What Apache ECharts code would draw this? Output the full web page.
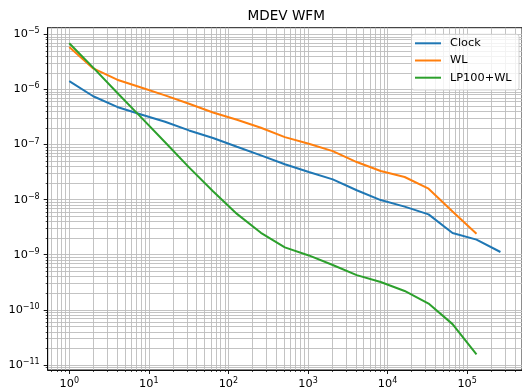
<!DOCTYPE html>
<html>
<head>
<meta charset="utf-8">
<script src="https://cdn.jsdelivr.net/npm/echarts@6/dist/echarts.min.js"></script>
<style>
html,body{margin:0;padding:0;background:#fff;}
#chart{width:522px;height:392px;}
</style>
</head>
<body>
<div id="chart"></div>
<script>
// averaging times (tau)
const taus = [1, 2, 4, 8, 16, 32, 64, 128, 256, 512, 1024, 2048, 4096, 8192, 16384, 32768, 65536, 131072, 262144];
// modified deviation values
const clock = [1.41e-6, 7.5e-7, 4.8e-7, 3.5e-7, 2.58e-7, 1.8e-7, 1.31e-7, 9.1e-8, 6.35e-8, 4.37e-8, 3.16e-8, 2.33e-8, 1.48e-8, 9.8e-9, 7.45e-9, 5.4e-9, 2.48e-9, 1.88e-9, 1.12e-9];
const wl = [5.9e-6, 2.4e-6, 1.5e-6, 1.08e-6, 7.8e-7, 5.5e-7, 3.8e-7, 2.81e-7, 2.01e-7, 1.36e-7, 1.03e-7, 7.59e-8, 4.8e-8, 3.3e-8, 2.57e-8, 1.58e-8, 6.1e-9, 2.4e-9];
const lp100wl = [6.87e-6, 2.48e-6, 8.7e-7, 3.1e-7, 1.1e-7, 3.85e-8, 1.42e-8, 5.5e-9, 2.5e-9, 1.36e-9, 9.7e-10, 6.5e-10, 4.26e-10, 3.2e-10, 2.2e-10, 1.3e-10, 5.5e-11, 1.55e-11];
const seriesNames = ['Clock', 'WL', 'LP100+WL'];
const xTickExponents = [0, 1, 2, 3, 4, 5];
const yTickExponents = [-11, -10, -9, -8, -7, -6, -5];

const colors = ['#1f77b4', '#ff7f0e', '#2ca02c'];
const FONT = 'DejaVu Sans';

function toLogPairs(vals) {
  return vals.map((v, i) => [Math.log10(taus[i]), Math.log10(v)]);
}
const allSeries = [clock, wl, lp100wl];

// matplotlib-like autoscale with 5% margins (in log space)
const xsL = taus.map(t => Math.log10(t));
const ysL = [].concat(...allSeries).map(v => Math.log10(v));
const xMinD = Math.min(...xsL), xMaxD = Math.max(...xsL);
const yMinD = Math.min(...ysL), yMaxD = Math.max(...ysL);
const xm = 0.05 * (xMaxD - xMinD), ym = 0.05 * (yMaxD - yMinD);
const xMin = xMinD - xm, xMax = xMaxD + xm;
const yMin = yMinD - ym, yMax = yMaxD + ym;

function minorValues(lo, hi) {
  const out = [];
  for (let n = Math.floor(lo) - 1; n <= Math.ceil(hi); n++) {
    for (let k = 2; k <= 9; k++) {
      const v = n + Math.log10(k);
      if (v > lo && v < hi) out.push(v);
    }
  }
  return out;
}
const xMinor = minorValues(xMin, xMax);
const yMinor = minorValues(yMin, yMax);

function expLabel(v) {
  const e = Math.round(v);
  const s = e < 0 ? '\u2212' + (-e) : String(e);
  return '{b|10}{s|' + s + '}';
}
const rich = {
  b: { fontSize: 11.3, fontFamily: FONT, color: '#000', lineHeight: 14 },
  s: { fontSize: 8, fontFamily: FONT, color: '#000', lineHeight: 7, verticalAlign: 'top' }
};
const gridLine = { show: true, lineStyle: { color: '#bcbcbc', width: 0.9 } };

const chart = echarts.init(document.getElementById('chart'), null, { renderer: 'canvas' });
chart.setOption({
  animation: false,
  backgroundColor: '#fff',
  title: {
    text: 'MDEV WFM',
    left: 247.5, top: 8, padding: 0,
    textStyle: { fontFamily: FONT, fontSize: 13.6, fontWeight: 'normal', color: '#000', lineHeight: 16 }
  },
  grid: {
    left: 47.7, top: 27.7, right: -2.2, bottom: 22,
    show: true, borderColor: '#000', borderWidth: 0.9, backgroundColor: 'transparent'
  },
  legend: {
    orient: 'vertical',
    right: 3, top: 34.3,
    padding: [2, 7.4, 5.3, 3.5],
    icon: 'rect',
    itemWidth: 26, itemHeight: 2, itemGap: 3.2,
    backgroundColor: 'rgba(255,255,255,0.8)',
    borderColor: '#cccccc', borderWidth: 0.9, borderRadius: 2.5,
    textStyle: { fontFamily: FONT, fontSize: 11.3, color: '#000', lineHeight: 14, padding: [0, 0, 0, 4] },
    data: seriesNames
  },
  xAxis: [
    {
      type: 'value', min: xMin, max: xMax, position: 'bottom',
      axisLine: { show: true, onZero: false, lineStyle: { color: '#000', width: 0.9 } },
      axisTick: { show: true, length: 4, lineStyle: { color: '#000', width: 0.9 }, customValues: xTickExponents },
      axisLabel: { show: true, margin: 6.7, customValues: xTickExponents, formatter: expLabel, rich: rich },
      splitLine: gridLine
    },
    {
      type: 'value', min: xMin, max: xMax, position: 'bottom',
      axisLine: { show: false, onZero: false },
      axisTick: { show: true, length: 2, lineStyle: { color: '#000', width: 0.7 }, customValues: xMinor },
      axisLabel: { show: false },
      splitLine: gridLine
    }
  ],
  yAxis: [
    {
      type: 'value', min: yMin, max: yMax, position: 'left',
      axisLine: { show: true, onZero: false, lineStyle: { color: '#000', width: 0.9 } },
      axisTick: { show: true, length: 4, lineStyle: { color: '#000', width: 0.9 }, customValues: yTickExponents },
      axisLabel: { show: true, margin: 8, customValues: yTickExponents, formatter: expLabel, rich: rich },
      splitLine: gridLine
    },
    {
      type: 'value', min: yMin, max: yMax, position: 'left',
      axisLine: { show: false, onZero: false },
      axisTick: { show: true, length: 2, lineStyle: { color: '#000', width: 0.7 }, customValues: yMinor },
      axisLabel: { show: false },
      splitLine: gridLine
    }
  ],
  series: allSeries.map((vals, i) => ({
    name: seriesNames[i],
    type: 'line',
    xAxisIndex: 0, yAxisIndex: 0,
    data: toLogPairs(vals),
    symbol: 'none',
    showSymbol: false,
    color: colors[i],
    itemStyle: { color: colors[i] },
    lineStyle: { color: colors[i], width: 2 },
    z: 3
  }))
});
</script>
</body>
</html>
